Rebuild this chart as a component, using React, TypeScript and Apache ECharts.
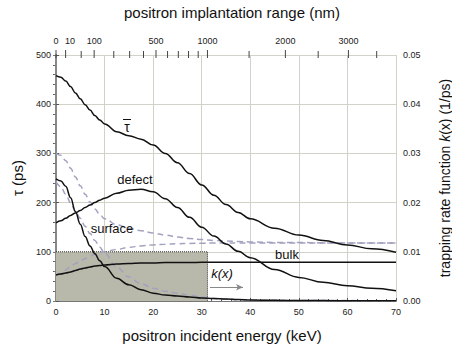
import React, { useEffect, useRef } from "react";
import * as echarts from "echarts";

// incident positron energy grid (keV)
const energy = [0, 1, 2, 3, 4, 5, 6, 7, 8, 9, 10, 12.5, 15, 17.5, 20, 22.5, 25, 27.5, 30, 32.5, 35, 37.5, 40, 45, 50, 55, 60, 65, 70];
// lifetimes (ps)
const tauMean = [458, 455, 447, 436, 423, 411, 399, 388, 377, 368, 360, 344, 336, 329, 317, 300, 281, 259, 236, 215, 196, 180, 167, 148, 134, 123, 114, 106, 99];
const tauDefect = [159, 163, 168, 174, 179, 184, 190, 195, 200, 205, 209, 219, 225, 227, 222, 208, 190, 170, 150, 132, 116, 101, 88, 64, 48, 38, 31, 26, 21];
const tauSurface = [248, 244, 233, 210, 182, 156, 131, 112, 96, 82, 70, 46, 33, 23, 16, 12, 10, 8, 6, 5, 4, 3, 2, 1.5, 1, 0.8, 0.6, 0.4, 0.3];
const tauBulk = [53, 55, 57, 59, 62, 65, 67, 69, 71, 72, 73, 75, 76, 77, 77, 78, 78, 78, 79, 79, 79, 79, 79, 79, 79, 79, 79, 79, 79];
const dashUpper = [300, 296, 285, 270, 252, 234, 217, 201, 187, 176, 167, 155, 148, 143, 138, 134, 130, 127, 125, 123, 122, 121, 120, 119, 119, 118, 118, 118, 118];
const dashRising = [53, 56, 63, 70, 76, 81, 86, 91, 95, 98, 100, 105, 109, 112, 114, 115.5, 116.5, 117, 117.5, 118, 118, 118, 118, 118, 118, 118, 118, 118, 118];
const dashFalling = [242, 232, 217, 200, 182, 168, 152, 137, 123, 110, 97, 69, 49, 35, 26, 20, 16, 12, 8, 5, 3.5, 2.5, 2, 1.5, 1, 1, 0.8, 0.6, 0.5];

// top axis: implantation range (nm)
const depthTicks = [0, 10, 50, 100, 200, 300, 400, 500, 600, 700, 800, 900, 1000, 1500, 2000, 2500, 3000, 3500];
const depthLabels = [0, 10, 100, 500, 1000, 2000, 3000];

// trapping rate function k(x)
const kValue = 0.01; // 1/ps
const kDepthLimit = 1000; // nm
const kArrowK = 0.0028;
const kArrowE = [31.7, 38.5];

// implantation range R = A * E^n  (nm, keV)
const RANGE_A = 3.2;
const RANGE_N = 1.67;
const nmToKeV = (nm: number) => (nm <= 0 ? 0 : Math.pow(nm / RANGE_A, 1 / RANGE_N));

const pairs = (ys: number[]) => energy.map((e, i) => [e, ys[i]]);

const FONT = "Liberation Sans, Arial, sans-serif";
const TAU_MAX = 500;

export default function App() {
  const ref = useRef<HTMLDivElement>(null);
  useEffect(() => {
    if (!ref.current) return;
    const chart = echarts.init(ref.current, null, { renderer: "svg" });
    const labelE = depthLabels.map(nmToKeV);
    const eb = nmToKeV(kDepthLimit);
    const solid = (name: string, ys: number[]) => ({
      type: "line",
      name,
      data: pairs(ys),
      smooth: 0.4,
      smoothMonotone: "x",
      symbol: "none",
      lineStyle: { color: "#111", width: 1.5 },
      z: 5,
    });
    const dashed = (name: string, ys: number[]) => ({
      type: "line",
      name,
      data: pairs(ys),
      smooth: 0.4,
      smoothMonotone: "x",
      symbol: "none",
      lineStyle: { color: "#a2a2c0", width: 1.5, type: [6, 4] },
      z: 4,
    });
    chart.setOption({
      animation: false,
      textStyle: { fontFamily: FONT },
      grid: { left: 56, right: 56, top: 55, bottom: 48, containLabel: false, outerBoundsMode: "none" },
      xAxis: [
        {
          type: "value",
          min: 0,
          max: 70,
          interval: 10,
          position: "bottom",
          axisLine: { lineStyle: { color: "#555", width: 1 } },
          axisTick: { inside: true, length: 3, lineStyle: { color: "#555" } },
          minorTick: { show: true, splitNumber: 5, length: 2, lineStyle: { color: "#555" } },
          splitLine: { show: true, lineStyle: { color: "#d2d2c8", width: 1 } },
          axisLabel: { fontSize: 9, color: "#222", margin: 6, fontFamily: FONT },
          name: "positron incident energy (keV)",
          nameLocation: "middle",
          nameGap: 27,
          nameTextStyle: { fontSize: 15, color: "#111", fontFamily: FONT, padding: [0, 8, 0, 0] },
        },
        {
          type: "value",
          min: 0,
          max: 70,
          position: "top",
          axisLine: { show: true, lineStyle: { color: "#777", width: 1 } },
          axisTick: { show: false },
          splitLine: { show: false },
          axisLabel: {
            show: true,
            fontSize: 9,
            color: "#222",
            margin: 10,
            fontFamily: FONT,
            customValues: labelE,
            formatter: (v: number) => {
              let best = depthLabels[0];
              let bd = Infinity;
              depthLabels.forEach((d) => {
                const dd = Math.abs(nmToKeV(d) - v);
                if (dd < bd) {
                  bd = dd;
                  best = d;
                }
              });
              return best === 10 ? "{s|10}" : String(best);
            },
            rich: { s: { fontSize: 9, color: "#222", fontFamily: FONT, padding: [0, 0, 0, 9] } },
          },
          name: "positron implantation range (nm)",
          nameLocation: "middle",
          nameGap: 35,
          nameTextStyle: { fontSize: 15, color: "#111", fontFamily: FONT, padding: [0, 0, 0, 12] },
        },
      ],
      yAxis: [
        {
          type: "value",
          min: 0,
          max: TAU_MAX,
          interval: 100,
          position: "left",
          axisLine: { show: true, lineStyle: { color: "#555", width: 1 } },
          axisTick: { show: true, inside: false, length: 3, lineStyle: { color: "#555" } },
          minorTick: { show: true, splitNumber: 5, length: 3, lineStyle: { color: "#555" } },
          splitLine: { show: true, lineStyle: { color: "#d2d2c8", width: 1 } },
          axisLabel: { fontSize: 9, color: "#222", margin: 5, fontFamily: FONT },
          name: "\u03c4 (ps)",
          nameLocation: "middle",
          nameGap: 30,
          nameRotate: 90,
          nameTextStyle: { fontSize: 15, color: "#111", fontFamily: FONT },
        },
        {
          type: "value",
          min: 0,
          max: 0.05,
          interval: 0.01,
          position: "right",
          axisLine: { show: true, lineStyle: { color: "#888", width: 2 } },
          axisTick: { show: true, inside: true, length: 3, lineStyle: { color: "#777" } },
          minorTick: { show: true, splitNumber: 5, length: 2, lineStyle: { color: "#777" } },
          splitLine: { show: false },
          axisLabel: { fontSize: 9, color: "#222", margin: 7, fontFamily: FONT, formatter: (v: number) => v.toFixed(2) },
          name: "trapping rate function {i|k}(x) (1/ps)",
          nameLocation: "middle",
          nameGap: 42,
          nameRotate: 90,
          nameTextStyle: {
            fontSize: 14,
            color: "#111",
            fontFamily: FONT,
            rich: { i: { fontSize: 14, fontStyle: "italic", color: "#111", fontFamily: FONT } },
          },
        },
        {
          type: "value",
          min: 0,
          max: TAU_MAX,
          interval: 100,
          position: "left",
          axisLine: { show: false },
          axisTick: { show: true, inside: true, length: 3, lineStyle: { color: "#555" } },
          splitLine: { show: false },
          axisLabel: { show: false },
        },
      ],
      series: [
        {
          type: "line",
          name: "k(x)",
          yAxisIndex: 1,
          data: [
            [0, kValue],
            [eb, kValue],
            [eb, 0],
          ],
          symbol: "none",
          lineStyle: { color: "#333", width: 1, type: "dotted" },
          areaStyle: { color: "#b9b9ab", opacity: 1 },
          z: 2,
          markLine: {
            silent: true,
            symbol: ["none", "arrow"],
            symbolSize: [5, 7],
            label: { show: false },
            lineStyle: { color: "#888", width: 1, type: "solid" },
            data: [[{ coord: [kArrowE[0], kArrowK] }, { coord: [kArrowE[1], kArrowK] }]],
          },
        },
        {
          type: "custom",
          name: "depth ticks",
          silent: true,
          clip: false,
          z: 10,
          data: depthTicks.map((nm) => [nmToKeV(nm), TAU_MAX, depthLabels.indexOf(nm) >= 0 ? 1 : 0]),
          renderItem: (params: any, api: any) => {
            const p = api.coord([api.value(0), api.value(1)]);
            const major = api.value(2) === 1;
            return {
              type: "line",
              shape: { x1: p[0], y1: p[1] - (major ? 5 : 4), x2: p[0], y2: p[1] + 3 },
              style: { stroke: "#444", lineWidth: 1 },
            };
          },
        },
        dashed("upper", dashUpper),
        dashed("rising", dashRising),
        dashed("falling", dashFalling),
        solid("mean", tauMean),
        solid("defect", tauDefect),
        solid("surface", tauSurface),
        solid("bulk", tauBulk),
      ],
      graphic: [
        { type: "text", x: 127, y: 127, style: { text: "\u03c4", font: `14px ${FONT}`, fill: "#111", align: "center", verticalAlign: "middle" }, z: 10 },
        { type: "line", shape: { x1: 123, y1: 119.5, x2: 131, y2: 119.5 }, style: { stroke: "#111", lineWidth: 1 }, z: 10 },
        { type: "text", x: 135, y: 179, style: { text: "defect", font: `13px ${FONT}`, fill: "#111", align: "center", verticalAlign: "middle" }, z: 10 },
        { type: "text", x: 112, y: 228, style: { text: "surface", font: `13px ${FONT}`, fill: "#111", align: "center", verticalAlign: "middle" }, z: 10 },
        { type: "text", x: 287, y: 254, style: { text: "bulk", font: `13px ${FONT}`, fill: "#111", align: "center", verticalAlign: "middle" }, z: 10 },
        { type: "text", x: 222, y: 273, style: { text: "k(x)", font: `italic 13px ${FONT}`, fill: "#111", align: "center", verticalAlign: "middle" }, z: 10 },
      ],
    });
    return () => chart.dispose();
  }, []);
  return <div ref={ref} style={{ position: "absolute", left: 0, top: 0, width: 452, height: 349 }} />;
}
